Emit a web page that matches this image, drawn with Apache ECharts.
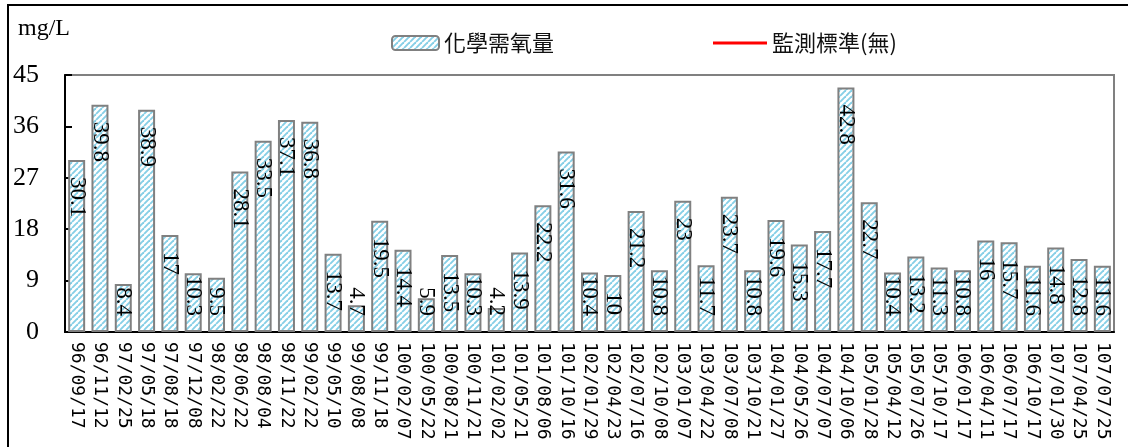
<!DOCTYPE html>
<html>
<head>
<meta charset="utf-8">
<script src="https://cdn.jsdelivr.net/npm/echarts@6/dist/echarts.min.js"></script>
<style>
  html, body { margin: 0; padding: 0; background: #fff; }
  #chart { width: 1128px; height: 447px; }
</style>
</head>
<body>
<div id="chart"></div>
<script>
// Sampling dates (ROC calendar) and chemical oxygen demand readings, mg/L
const categories = [
  '96/09/17', '96/11/12', '97/02/25', '97/05/18', '97/08/18', '97/12/08',
  '98/02/22', '98/06/22', '98/08/04', '98/11/22', '99/02/22', '99/05/10',
  '99/08/08', '99/11/18', '100/02/07', '100/05/22', '100/08/21', '100/11/21',
  '101/02/02', '101/05/21', '101/08/06', '101/10/16', '102/01/29', '102/04/23',
  '102/07/16', '102/10/08', '103/01/07', '103/04/22', '103/07/08', '103/10/21',
  '104/01/27', '104/05/26', '104/07/07', '104/10/06', '105/01/28', '105/04/12',
  '105/07/26', '105/10/17', '106/01/17', '106/04/11', '106/07/17', '106/10/17',
  '107/01/30', '107/04/25', '107/07/25'
];
const codValues = [
  30.1, 39.8, 8.4, 38.9, 17, 10.3,
  9.5, 28.1, 33.5, 37.1, 36.8, 13.7,
  4.7, 19.5, 14.4, 5.9, 13.5, 10.3,
  4.2, 13.9, 22.2, 31.6, 10.4, 10,
  21.2, 10.8, 23, 11.7, 23.7, 10.8,
  19.6, 15.3, 17.7, 42.8, 22.7, 10.4,
  13.2, 11.3, 10.8, 16, 15.7, 11.6,
  14.8, 12.8, 11.6
];
// The monitoring standard has no limit value, so its series is empty
const standardValues = [];
const seriesNames = ['化學需氧量', '監測標準(無)'];
const unitLabel = 'mg/L';
const yMin = 0, yMax = 45, yStep = 9;

// Plot-area geometry
const GRID = { left: 65, right: 14, top: 75, bottom: 115 };
const PLOT_H = 447 - GRID.top - GRID.bottom;
const LABEL_FONT = 23;

// Light-blue diagonal hatch used to fill the bars
function hatchPattern() {
  const c = document.createElement('canvas');
  c.width = 6; c.height = 6;
  const g = c.getContext('2d');
  g.fillStyle = '#ffffff';
  g.fillRect(0, 0, 6, 6);
  g.strokeStyle = '#86cfe6';
  g.lineWidth = 1.9;
  for (let k = -6; k <= 6; k += 6) {
    g.beginPath();
    g.moveTo(k, 6);
    g.lineTo(k + 6, 0);
    g.stroke();
  }
  return c;
}

// Rough rendered length of a rotated value label
function labelLength(v) {
  let w = 0;
  for (const ch of String(v)) w += (ch === '.' ? 0.25 : 0.5);
  return w * LABEL_FONT;
}

// Labels hang from the bar top; short bars get them pinned near the axis instead
const barData = codValues.map(v => {
  const barPx = (v - yMin) / (yMax - yMin) * PLOT_H;
  const fitsTop = barPx >= labelLength(v) + 34;
  return {
    value: v,
    label: fitsTop
      ? { position: 'insideTop', distance: 17, align: 'left' }
      : { position: 'insideBottom', distance: 16, align: 'right' }
  };
});

const chart = echarts.init(document.getElementById('chart'), null, { renderer: 'canvas' });

chart.setOption({
  animation: false,
  backgroundColor: '#ffffff',
  grid: {
    left: GRID.left, right: GRID.right, top: GRID.top, bottom: GRID.bottom,
    show: true, borderColor: '#808080', borderWidth: 2, backgroundColor: 'transparent'
  },
  legend: [
    {
      data: [{ name: seriesNames[0] }],
      left: 386, top: 27,
      itemWidth: 47, itemHeight: 14,
      textStyle: { fontFamily: 'Noto Sans CJK TC', fontSize: 22, color: '#111' },
      selectedMode: false
    },
    {
      data: [{ name: seriesNames[1], icon: 'rect' }],
      left: 708, top: 27,
      itemWidth: 54, itemHeight: 3,
      textStyle: { fontFamily: 'Noto Sans CJK TC', fontSize: 22, color: '#111' },
      selectedMode: false
    }
  ],
  graphic: [
    {
      type: 'rect', silent: true, z: 100,
      shape: { x: 8, y: 5, width: 1400, height: 800 },
      style: { fill: 'none', stroke: '#000', lineWidth: 2 }
    },
    {
      type: 'text', left: 18, top: 17, silent: true,
      style: { text: unitLabel, font: '24px "Liberation Serif"', fill: '#000' }
    }
  ],
  xAxis: {
    type: 'category',
    data: categories,
    boundaryGap: true,
    axisLine: { lineStyle: { color: '#000', width: 2 } },
    axisTick: { inside: true, length: 6, interval: 0, lineStyle: { color: '#000', width: 2 } },
    axisLabel: {
      interval: 0, rotate: -90, margin: 10,
      fontFamily: 'DejaVu Sans Mono', fontSize: 18, color: '#000'
    },
    splitLine: { show: false }
  },
  yAxis: {
    type: 'value',
    min: yMin, max: yMax, interval: yStep,
    axisLine: { show: true, lineStyle: { color: '#000', width: 2 } },
    axisTick: { show: true, inside: true, length: 7, lineStyle: { color: '#000', width: 2 } },
    axisLabel: { margin: 26, fontFamily: 'Liberation Serif', fontSize: 26, color: '#000' },
    splitLine: { show: false }
  },
  series: [
    {
      name: seriesNames[0],
      type: 'bar',
      data: barData,
      barWidth: 17,
      itemStyle: {
        color: { image: hatchPattern(), repeat: 'repeat' },
        borderColor: '#808080',
        borderWidth: 2
      },
      label: {
        show: true,
        rotate: -90,
        verticalAlign: 'middle',
        fontFamily: 'Liberation Serif',
        fontSize: LABEL_FONT,
        color: '#000'
      }
    },
    {
      name: seriesNames[1],
      type: 'line',
      data: standardValues,
      color: '#ff0000',
      lineStyle: { color: '#ff0000', width: 3 },
      showSymbol: false
    }
  ]
});
</script>
</body>
</html>
